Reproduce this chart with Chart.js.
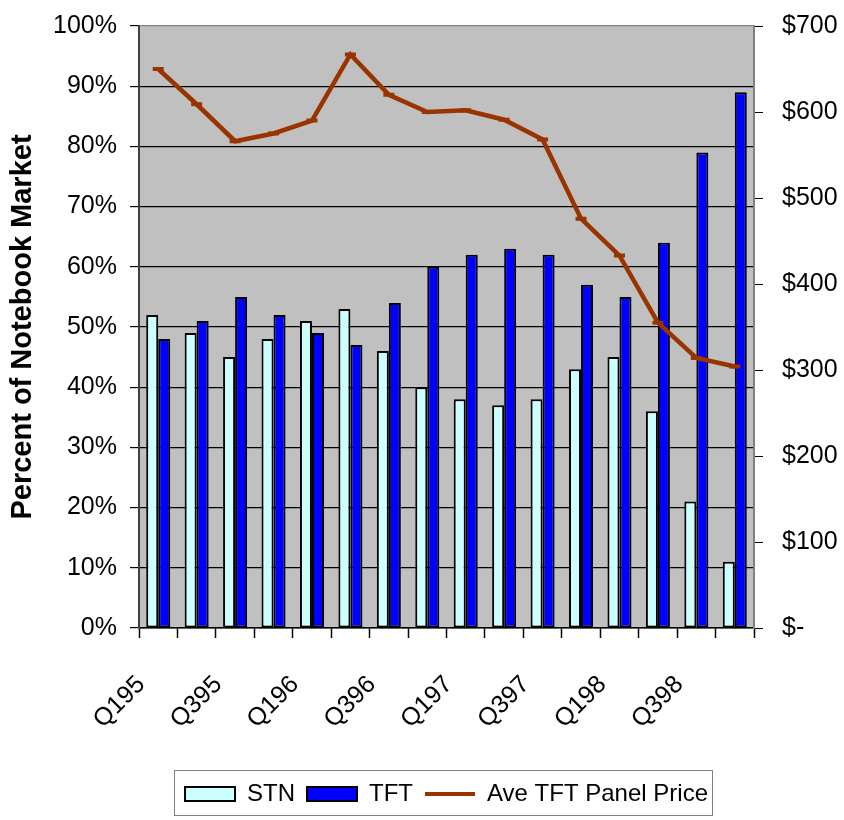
<!DOCTYPE html>
<html>
<head>
<meta charset="utf-8">
<script src="https://cdn.jsdelivr.net/npm/chart.js@4.4.0/dist/chart.umd.min.js"></script>
<style>
  html, body { margin: 0; padding: 0; background: #fff; }
</style>
</head>
<body>
<canvas id="notebookChart" width="844" height="820"></canvas>
<script>
// Notebook display market: STN vs TFT share, with average TFT panel price.
const quarters = ['Q195', 'Q295', 'Q395', 'Q495', 'Q196', 'Q296', 'Q396', 'Q496',
                  'Q197', 'Q297', 'Q397', 'Q497', 'Q198', 'Q298', 'Q398', 'Q498'];
const stnShare = [52, 49, 45, 48, 51, 53, 46, 40, 38, 37, 38, 43, 45, 36, 21, 11];
const tftShare = [48, 51, 55, 52, 49, 47, 54, 60, 62, 63, 62, 57, 55, 64, 79, 89];
const tftPrice = [650, 609, 566, 575, 590, 667, 620, 600, 602, 591, 568, 476, 433, 355, 314, 304];

const FONT = 'Liberation Sans, Arial, sans-serif';

// Grey plot area, like the old Excel default.
const plotBackground = {
    id: 'plotBackground',
    beforeDraw(chart) {
        const a = chart.chartArea;
        const ctx = chart.ctx;
        ctx.save();
        ctx.fillStyle = '#C0C0C0';
        ctx.fillRect(a.left, a.top, a.right - a.left, a.bottom - a.top);
        ctx.restore();
    }
};

// Thin frame round the legend items.
const legendFrame = {
    id: 'legendFrame',
    afterDraw(chart) {
        const lg = chart.legend;
        if (!lg || !lg.legendHitBoxes.length) return;
        const boxes = lg.legendHitBoxes;
        const left = boxes[0].left - 11;
        const last = boxes[boxes.length - 1];
        const right = last.left + last.width + 4;
        const ctx = chart.ctx;
        ctx.save();
        ctx.strokeStyle = '#808080';
        ctx.lineWidth = 1;
        ctx.strokeRect(Math.round(left) + 0.5, Math.round(lg.top) + 0.5,
                       Math.round(right - left), Math.round(lg.height) - 1);
        ctx.restore();
    }
};

// Fixed axis widths, and no extra room reserved above/below for the end labels.
function fixWidth(w) {
    return scale => {
        scale.width = w;
        scale.paddingTop = 0;
        scale.paddingBottom = 0;
    };
}

new Chart(document.getElementById('notebookChart'), {
    data: {
        labels: quarters,
        datasets: [
            {
                type: 'bar',
                label: 'STN',
                data: stnShare,
                yAxisID: 'y',
                backgroundColor: '#CCFFFF',
                borderColor: '#000000',
                borderWidth: 2,
                borderSkipped: false,
                categoryPercentage: 0.625,
                barPercentage: 1.0,
                order: 1
            },
            {
                type: 'bar',
                label: 'TFT',
                data: tftShare,
                yAxisID: 'y',
                backgroundColor: '#0000FF',
                borderColor: '#000000',
                borderWidth: 2,
                borderSkipped: false,
                categoryPercentage: 0.625,
                barPercentage: 1.0,
                order: 1
            },
            {
                type: 'line',
                label: 'Ave TFT Panel Price',
                data: tftPrice,
                yAxisID: 'y1',
                borderColor: '#993300',
                backgroundColor: '#993300',
                borderWidth: 4.5,
                tension: 0,
                pointStyle: 'line',
                pointRadius: 5.5,
                pointBorderWidth: 4,
                pointBorderColor: '#993300',
                order: 0
            }
        ]
    },
    options: {
        responsive: false,
        animation: false,
        devicePixelRatio: 1,
        layout: { padding: { top: 26, left: 0, right: 0, bottom: 4 } },
        plugins: {
            tooltip: { enabled: false },
            legend: {
                position: 'bottom',
                fullSize: false,
                labels: {
                    usePointStyle: true,
                    pointStyleWidth: 50,
                    boxHeight: 14,
                    padding: 12,
                    color: '#000',
                    font: { family: FONT, size: 24 },
                    sort: (a, b) => a.datasetIndex - b.datasetIndex,
                    generateLabels(chart) {
                        const items = Chart.defaults.plugins.legend.labels.generateLabels(chart);
                        return items.map(it => {
                            it.pointStyle = it.datasetIndex === 2 ? 'line' : 'rect';
                            return it;
                        });
                    }
                }
            }
        },
        scales: {
            x: {
                grid: { drawOnChartArea: false, tickLength: 10, tickColor: '#000', tickWidth: 1.5 },
                border: { color: '#000', width: 1.5 },
                ticks: {
                    autoSkip: false,
                    minRotation: 45,
                    maxRotation: 45,
                    padding: 32,
                    labelOffset: -17,
                    color: '#000',
                    font: { family: FONT, size: 25 },
                    callback: function (v, i) { return i % 2 === 0 ? this.getLabelForValue(v) : ''; }
                },
                afterFit(scale) { scale.height = 142; }
            },
            y: {
                position: 'left',
                min: 0,
                max: 100,
                grid: {
                    color: ctx => (ctx.tick && ctx.tick.value === 100 ? '#808080' : '#000'),
                    lineWidth: 1.2,
                    tickLength: 9,
                    tickColor: '#000'
                },
                border: { color: '#404040', width: 2 },
                ticks: {
                    stepSize: 10,
                    padding: 13,
                    color: '#000',
                    font: { family: FONT, size: 25 },
                    callback: v => v + '%'
                },
                title: {
                    display: true,
                    text: 'Percent of Notebook Market',
                    color: '#000',
                    font: { family: FONT, size: 29, weight: 'bold' },
                    padding: { top: 6, bottom: 0 }
                },
                afterFit: fixWidth(139)
            },
            y1: {
                position: 'right',
                min: 0,
                max: 700,
                grid: { drawOnChartArea: false, tickLength: 9, tickColor: '#000' },
                border: { color: '#808080', width: 2 },
                ticks: {
                    stepSize: 100,
                    padding: 19,
                    color: '#000',
                    font: { family: FONT, size: 25 },
                    callback: v => (v === 0 ? '$-' : '$' + v)
                },
                afterFit: fixWidth(90)
            }
        }
    },
    plugins: [plotBackground, legendFrame]
});
</script>
</body>
</html>
